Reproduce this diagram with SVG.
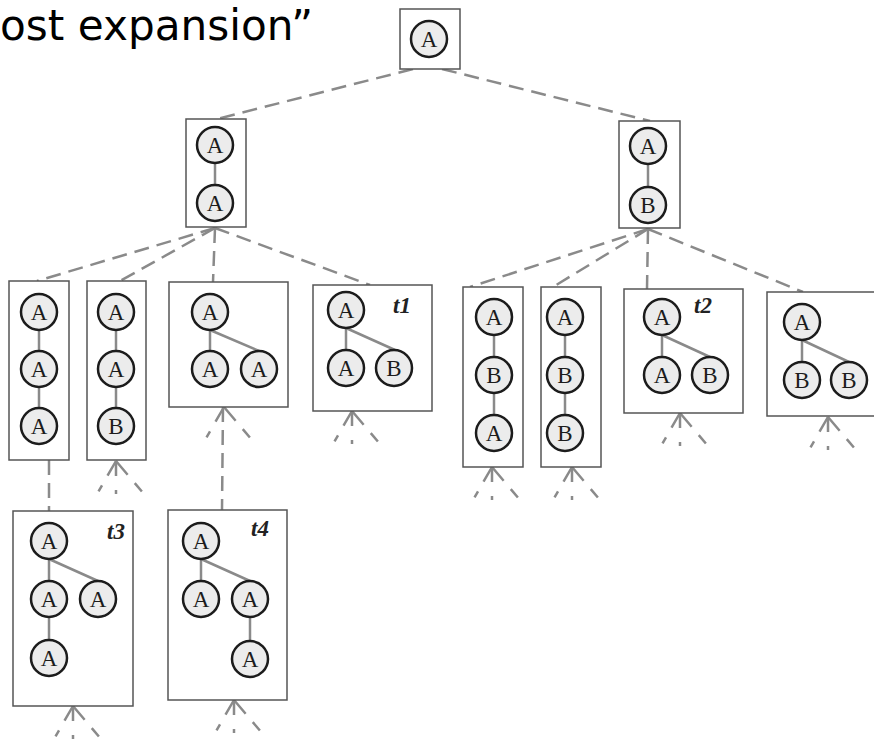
<svg xmlns="http://www.w3.org/2000/svg" xmlns:xlink="http://www.w3.org/1999/xlink" width="874" height="742" viewBox="0 0 874 742">
  <style>
    .title { font-family: "DejaVu Sans", Verdana, sans-serif; font-size: 42px; fill: #000; }
    .box { fill: #fff; stroke: #555; stroke-width: 1.5; }
    .n { fill: #ececec; stroke: #1c1c1c; stroke-width: 2.5; }
    .lbl { font-family: "Liberation Serif", "Times New Roman", serif; font-size: 23px; fill: #1c1c1c; text-anchor: middle; }
    .tag { font-family: "Liberation Serif", "Times New Roman", serif; font-size: 23px; font-weight: bold; font-style: italic; fill: #222; }
    .e { stroke: #8a8a8a; stroke-width: 2.5; fill: none; stroke-linecap: round; }
    .c { stroke: #8a8a8a; stroke-width: 2.5; fill: none; stroke-dasharray: 15 8; }
    .f { stroke: #8a8a8a; stroke-width: 2.5; fill: none; }
  </style>
  <defs>
    <!-- open-ended fan below an unexpanded node -->
    <g id="fanL"><line class="f" x1="0" y1="0" x2="-19" y2="33" stroke-dasharray="17 11 7 40"/></g>
    <g id="fanR"><line class="f" x1="0" y1="0" x2="28" y2="33" stroke-dasharray="18 11 11 40"/></g>
    <g id="fan">
      <use xlink:href="#fanL"/>
      <line class="f" x1="0" y1="0" x2="0" y2="33" stroke-dasharray="15 14 4 40"/>
      <use xlink:href="#fanR"/>
    </g>
  </defs>

  <text class="title" x="0" y="40" textLength="313" lengthAdjust="spacingAndGlyphs">ost expansion”</text>

  <!-- connectors between search nodes -->
  <g id="connectors">
    <line class="c" x1="413" y1="69" x2="217" y2="119"/>
    <line class="c" x1="442" y1="69" x2="650" y2="121"/>
    <line class="c" x1="215" y1="228" x2="37" y2="281"/>
    <line class="c" x1="215" y1="228" x2="120" y2="281"/>
    <line class="c" x1="215" y1="228" x2="213" y2="282"/>
    <line class="c" x1="215" y1="228" x2="370" y2="285"/>
    <line class="c" x1="648" y1="229" x2="470" y2="287"/>
    <line class="c" x1="648" y1="229" x2="553" y2="287"/>
    <line class="c" x1="648" y1="229" x2="647" y2="289"/>
    <line class="c" x1="648" y1="229" x2="803" y2="292"/>
    <line class="c" x1="49" y1="460" x2="49" y2="511"/>
    <line class="c" x1="223" y1="407" x2="222" y2="510"/>
    <use xlink:href="#fanL" x="224" y="407"/>
    <use xlink:href="#fanR" x="224" y="407"/>
    <use xlink:href="#fan" x="116" y="461"/>
    <use xlink:href="#fan" x="352" y="411"/>
    <use xlink:href="#fan" x="492" y="467"/>
    <use xlink:href="#fan" x="572" y="467"/>
    <use xlink:href="#fan" x="680" y="413"/>
    <use xlink:href="#fan" x="828" y="417"/>
    <use xlink:href="#fan" x="73" y="706"/>
    <use xlink:href="#fan" x="234" y="700"/>
  </g>

  <g id="root">
    <rect class="box" x="400" y="9" width="60" height="60"/>
    <circle class="n" cx="429" cy="39" r="18"/><text class="lbl" x="429" y="47">A</text>
  </g>

  <g id="aa">
    <rect class="box" x="186" y="119" width="60" height="108"/>
    <line class="e" x1="215" y1="163" x2="215" y2="185"/>
    <circle class="n" cx="215" cy="145" r="18"/><text class="lbl" x="215" y="153">A</text>
    <circle class="n" cx="215" cy="203" r="18"/><text class="lbl" x="215" y="211">A</text>
  </g>

  <g id="ab">
    <rect class="box" x="619" y="121" width="61" height="107"/>
    <line class="e" x1="648" y1="164" x2="648" y2="187"/>
    <circle class="n" cx="648" cy="146" r="18"/><text class="lbl" x="648" y="154">A</text>
    <circle class="n" cx="648" cy="205" r="18"/><text class="lbl" x="648" y="213">B</text>
  </g>

  <g id="aaa">
    <rect class="box" x="9" y="281" width="60" height="179"/>
    <line class="e" x1="39" y1="330" x2="39" y2="351"/>
    <line class="e" x1="39" y1="387" x2="39" y2="408"/>
    <circle class="n" cx="39" cy="312" r="18"/><text class="lbl" x="39" y="320">A</text>
    <circle class="n" cx="39" cy="369" r="18"/><text class="lbl" x="39" y="377">A</text>
    <circle class="n" cx="39" cy="426" r="18"/><text class="lbl" x="39" y="434">A</text>
  </g>

  <g id="aab">
    <rect class="box" x="87" y="281" width="59" height="179"/>
    <line class="e" x1="116" y1="330" x2="116" y2="351"/>
    <line class="e" x1="116" y1="387" x2="116" y2="408"/>
    <circle class="n" cx="116" cy="312" r="18"/><text class="lbl" x="116" y="320">A</text>
    <circle class="n" cx="116" cy="369" r="18"/><text class="lbl" x="116" y="377">A</text>
    <circle class="n" cx="116" cy="426" r="18"/><text class="lbl" x="116" y="434">B</text>
  </g>

  <g id="a_aa">
    <rect class="box" x="169" y="282" width="119" height="125"/>
    <line class="e" x1="210" y1="330" x2="210" y2="351" stroke-width="4"/>
    <line class="e" x1="210" y1="330" x2="259" y2="351"/>
    <circle class="n" cx="210" cy="312" r="18"/><text class="lbl" x="210" y="320">A</text>
    <circle class="n" cx="210" cy="369" r="18"/><text class="lbl" x="210" y="377">A</text>
    <circle class="n" cx="259" cy="369" r="18"/><text class="lbl" x="259" y="377">A</text>
  </g>

  <g id="t1">
    <rect class="box" x="313" y="285" width="119" height="126"/>
    <line class="e" x1="346" y1="328" x2="346" y2="350"/>
    <line class="e" x1="346" y1="328" x2="395" y2="350"/>
    <circle class="n" cx="346" cy="310" r="18"/><text class="lbl" x="346" y="318">A</text>
    <circle class="n" cx="346" cy="368" r="18"/><text class="lbl" x="346" y="376">A</text>
    <circle class="n" cx="394" cy="368" r="18"/><text class="lbl" x="394" y="376">B</text>
    <text class="tag" x="393" y="313">t1</text>
  </g>

  <g id="aba">
    <rect class="box" x="463" y="287" width="60" height="180"/>
    <line class="e" x1="494" y1="335" x2="494" y2="357"/>
    <line class="e" x1="494" y1="393" x2="494" y2="415"/>
    <circle class="n" cx="494" cy="317" r="18"/><text class="lbl" x="494" y="325">A</text>
    <circle class="n" cx="494" cy="375" r="18"/><text class="lbl" x="494" y="383">B</text>
    <circle class="n" cx="494" cy="433" r="18"/><text class="lbl" x="494" y="441">A</text>
  </g>

  <g id="abb">
    <rect class="box" x="541" y="287" width="60" height="180"/>
    <line class="e" x1="565" y1="335" x2="565" y2="357"/>
    <line class="e" x1="565" y1="393" x2="565" y2="415"/>
    <circle class="n" cx="565" cy="317" r="18"/><text class="lbl" x="565" y="325">A</text>
    <circle class="n" cx="565" cy="375" r="18"/><text class="lbl" x="565" y="383">B</text>
    <circle class="n" cx="565" cy="433" r="18"/><text class="lbl" x="565" y="441">B</text>
  </g>

  <g id="t2">
    <rect class="box" x="624" y="289" width="119" height="124"/>
    <line class="e" x1="662" y1="335" x2="662" y2="357" stroke-width="4"/>
    <line class="e" x1="662" y1="335" x2="710" y2="357"/>
    <circle class="n" cx="662" cy="317" r="18"/><text class="lbl" x="662" y="325">A</text>
    <circle class="n" cx="662" cy="375" r="18"/><text class="lbl" x="662" y="383">A</text>
    <circle class="n" cx="710" cy="375" r="18"/><text class="lbl" x="710" y="383">B</text>
    <text class="tag" x="694" y="313">t2</text>
  </g>

  <g id="a_bb">
    <rect class="box" x="767" y="292" width="120" height="124"/>
    <line class="e" x1="802" y1="340" x2="802" y2="362"/>
    <line class="e" x1="802" y1="340" x2="849" y2="362"/>
    <circle class="n" cx="802" cy="322" r="18"/><text class="lbl" x="802" y="330">A</text>
    <circle class="n" cx="802" cy="380" r="18"/><text class="lbl" x="802" y="388">B</text>
    <circle class="n" cx="849" cy="380" r="18"/><text class="lbl" x="849" y="388">B</text>
  </g>

  <g id="t3">
    <rect class="box" x="13" y="511" width="120" height="195"/>
    <line class="e" x1="49" y1="559" x2="49" y2="581"/>
    <line class="e" x1="49" y1="559" x2="98" y2="581"/>
    <line class="e" x1="49" y1="617" x2="49" y2="640"/>
    <circle class="n" cx="49" cy="541" r="18"/><text class="lbl" x="49" y="549">A</text>
    <circle class="n" cx="49" cy="599" r="18"/><text class="lbl" x="49" y="607">A</text>
    <circle class="n" cx="98" cy="599" r="18"/><text class="lbl" x="98" y="607">A</text>
    <circle class="n" cx="49" cy="658" r="18"/><text class="lbl" x="49" y="666">A</text>
    <text class="tag" x="107" y="539">t3</text>
  </g>

  <g id="t4">
    <rect class="box" x="168" y="510" width="119" height="190"/>
    <line class="e" x1="201" y1="559" x2="201" y2="581"/>
    <line class="e" x1="201" y1="559" x2="250" y2="581"/>
    <line class="e" x1="250" y1="617" x2="250" y2="641"/>
    <circle class="n" cx="201" cy="541" r="18"/><text class="lbl" x="201" y="549">A</text>
    <circle class="n" cx="201" cy="599" r="18"/><text class="lbl" x="201" y="607">A</text>
    <circle class="n" cx="250" cy="599" r="18"/><text class="lbl" x="250" y="607">A</text>
    <circle class="n" cx="250" cy="659" r="18"/><text class="lbl" x="250" y="667">A</text>
    <text class="tag" x="251" y="536">t4</text>
  </g>
</svg>
